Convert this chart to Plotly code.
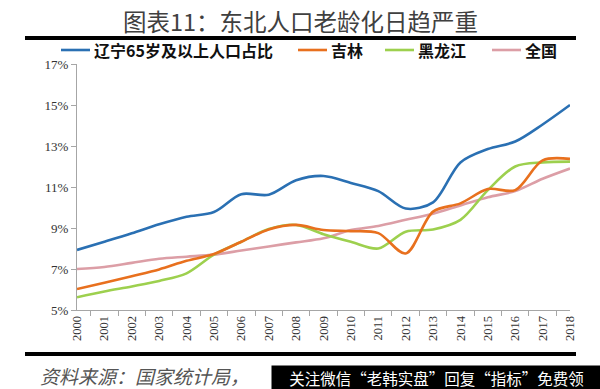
import plotly.graph_objects as go

years = [str(y) for y in range(2000, 2019)]
liaoning = [7.93, 8.33, 8.74, 9.18, 9.55, 9.78, 10.65, 10.62, 11.33, 11.54, 11.2, 10.8, 9.95, 10.25, 12.2, 12.85, 13.22, 14.05, 15.0]
jilin = [6.02, 6.33, 6.65, 6.98, 7.4, 7.73, 8.33, 8.93, 9.15, 8.9, 8.85, 8.75, 7.76, 9.8, 10.2, 10.9, 10.85, 12.3, 12.37]
heilongjiang = [5.62, 5.9, 6.15, 6.42, 6.79, 7.7, 8.33, 8.95, 9.15, 8.7, 8.33, 8.0, 8.82, 8.93, 9.4, 10.85, 12.0, 12.2, 12.24]
national = [7.0, 7.1, 7.3, 7.5, 7.6, 7.7, 7.9, 8.1, 8.3, 8.5, 8.9, 9.1, 9.4, 9.7, 10.1, 10.5, 10.8, 11.4, 11.9]

names = ["辽宁65岁及以上人口占比", "吉林", "黑龙江", "全国"]
colors = ["#2a70b3", "#e8701e", "#9dd04e", "#dc9ea6"]
series = [liaoning, jilin, heilongjiang, national]
y_ticks = [5, 7, 9, 11, 13, 15, 17]

W, H = 600, 389
L, R, T, B = 77, 30, 64, 389 - 310
pw, ph = W - L - R, H - T - B


def px(x):
    return (x - L) / pw


def py(y):
    return (H - B - y) / ph


fig = go.Figure()
for name, vals, col in zip(names[::-1], series[::-1], colors[::-1]):
    fig.add_trace(go.Scatter(x=years, y=vals, name=name, mode="lines",
                             line=dict(color=col, width=2.6, shape="spline", smoothing=0.9),
                             showlegend=False))

shapes = []
annotations = []
for yy in (38, 354):
    shapes.append(dict(type="line", xref="paper", yref="paper", x0=px(25), x1=px(576),
                       y0=py(yy), y1=py(yy), line=dict(color="black", width=4)))
annotations.append(dict(text="图表11：东北人口老龄化日趋严重", xref="paper", yref="paper",
                        x=px(300), y=py(21), showarrow=False, xanchor="center", yanchor="middle",
                        font=dict(family="Noto Sans CJK SC", size=23.5, color="#404040")))
leg_x = [61, 298, 385, 492]
for name, col, lx in zip(names, colors, leg_x):
    shapes.append(dict(type="line", xref="paper", yref="paper", x0=px(lx), x1=px(lx + 29),
                       y0=py(50), y1=py(50), line=dict(color=col, width=2.6)))
    annotations.append(dict(text="<b>" + name + "</b>", xref="paper", yref="paper",
                            x=px(lx + 31), y=py(50), showarrow=False, xanchor="left", yanchor="middle",
                            font=dict(family="Noto Sans CJK SC", size=16, color="#111111")))
annotations.append(dict(text="<i>资料来源：国家统计局，</i>", xref="paper", yref="paper",
                        x=px(38), y=py(375), showarrow=False, xanchor="left", yanchor="middle",
                        font=dict(family="Noto Sans CJK SC", size=19, color="#555555")))
annotations.append(dict(text="关注微信“老韩实盘”回复“指标”免费领", xref="paper", yref="paper",
                        x=px(271), y=py(365), showarrow=False, xanchor="left", yanchor="top",
                        width=329, height=24, bgcolor="black", borderpad=0, align="center",
                        font=dict(family="Noto Sans CJK SC", size=15.5, color="white")))

fig.update_layout(
    width=W, height=H, margin=dict(l=L, r=R, t=T, b=B),
    paper_bgcolor="white", plot_bgcolor="white",
    shapes=shapes, annotations=annotations,
    xaxis=dict(type="category", tickangle=-90, showline=True, linecolor="#a6a6a6", linewidth=1,
               ticks="outside", tickson="boundaries", ticklen=5, tickcolor="#a6a6a6",
               showgrid=False, zeroline=False,
               tickfont=dict(family="Liberation Serif", size=12.5, color="#333333")),
    yaxis=dict(range=[5, 17], tickvals=y_ticks, ticktext=[f"{v}%" for v in y_ticks],
               showline=True, linecolor="#a6a6a6", linewidth=1, ticks="outside", ticklen=5,
               tickcolor="#a6a6a6", showgrid=False, zeroline=False,
               tickfont=dict(family="Liberation Serif", size=13, color="#333333")),
)

fig.write_html("out.html", config={"displayModeBar": False},
               post_script="document.body.style.margin='0';document.body.style.overflow='hidden';")
